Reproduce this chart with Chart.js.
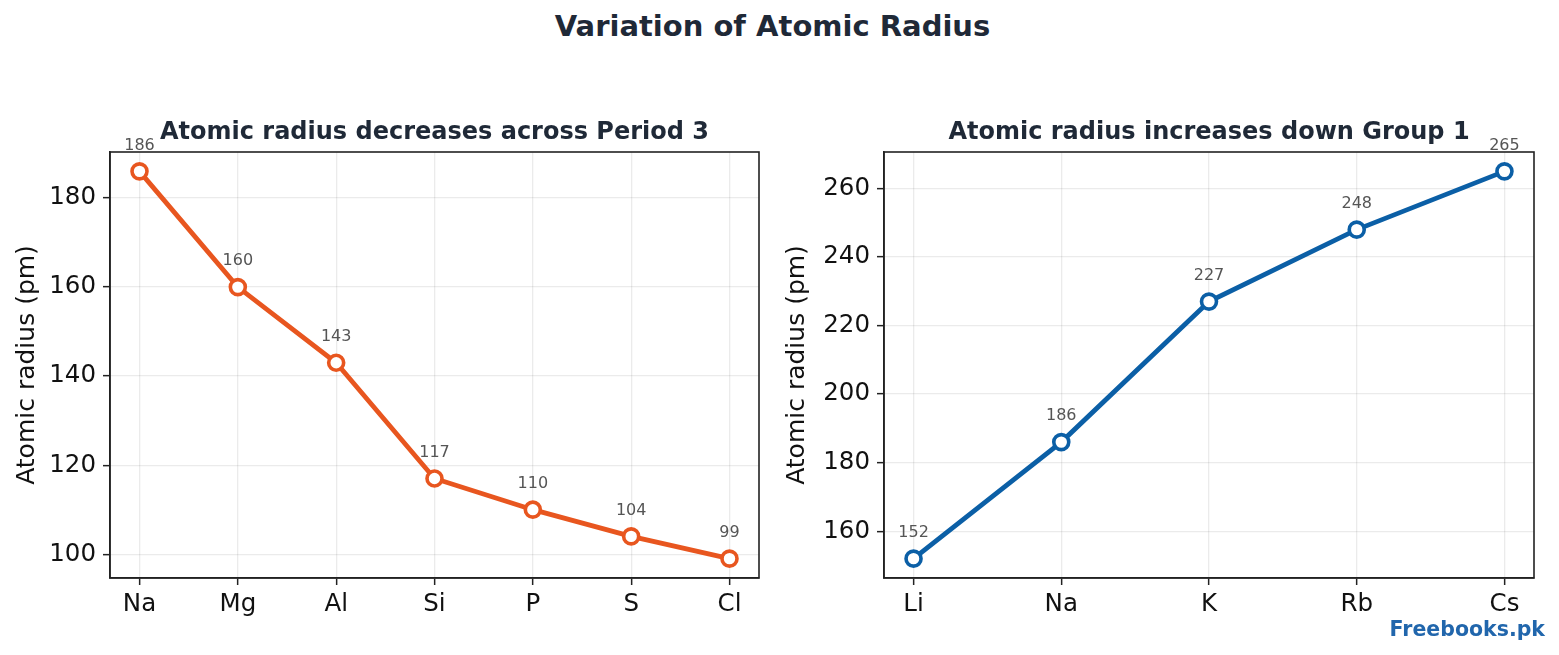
<!DOCTYPE html>
<html>
<head>
<meta charset="utf-8">
<script src="https://cdn.jsdelivr.net/npm/chart.js@4"></script>
<style>
  body { margin: 0; width: 1559px; height: 655px; background: #fff; position: relative; overflow: hidden; font-family: "DejaVu Sans", sans-serif; }
  #main-title { position: absolute; top: 9px; left: -7px; width: 1559px; text-align: center; font-weight: bold; font-size: 29px; color: #1f2937; }
  #watermark { position: absolute; right: 14px; top: 617px; font-weight: bold; font-size: 20.5px; color: #2166ac; }
  canvas { position: absolute; top: 0; }
</style>
</head>
<body>
<div id="main-title">Variation of Atomic Radius</div>
<canvas id="period-chart" width="780" height="655" style="left:0"></canvas>
<canvas id="group-chart" width="789" height="655" style="left:770px"></canvas>
<div id="watermark">Freebooks.pk</div>
<script>
const periodElements = ['Na', 'Mg', 'Al', 'Si', 'P', 'S', 'Cl'];
const periodRadius = [186, 160, 143, 117, 110, 104, 99];
const periodTicks = [100, 120, 140, 160, 180];

const groupElements = ['Li', 'Na', 'K', 'Rb', 'Cs'];
const groupRadius = [152, 186, 227, 248, 265];
const groupTicks = [160, 180, 200, 220, 240, 260];

const FONT = '"DejaVu Sans", sans-serif';

// top/right spines, subplot title and value labels
const extrasPlugin = {
    id: 'extras',
    afterDraw(chart, args, opts) {
        const ctx = chart.ctx;
        const a = chart.chartArea;
        ctx.save();
        ctx.strokeStyle = '#222';
        ctx.lineWidth = 1.6;
        ctx.strokeRect(a.left, a.top, a.right - a.left, a.bottom - a.top);

        ctx.fillStyle = '#1f2937';
        ctx.font = 'bold 24px ' + FONT;
        ctx.textAlign = 'center';
        ctx.textBaseline = 'middle';
        ctx.fillText(opts.title, (a.left + a.right) / 2, 133);

        ctx.fillStyle = '#555';
        ctx.font = '16px ' + FONT;
        const meta = chart.getDatasetMeta(0);
        meta.data.forEach((pt, i) => {
            ctx.fillText(chart.data.datasets[0].data[i].y, pt.x, pt.y - 26);
        });
        ctx.restore();
    }
};

function makeChart(canvasId, cats, values, yTicks, color, title, yAxisWidth, rightPad) {
    const lo = Math.min(...values), hi = Math.max(...values);
    const m = (hi - lo) * 0.05;
    const xm = (cats.length - 1) * 0.05;
    return new Chart(document.getElementById(canvasId).getContext('2d'), {
        type: 'line',
        data: {
            datasets: [{
                data: values.map((v, i) => ({ x: i, y: v })),
                borderColor: color,
                borderWidth: 4.8,
                pointRadius: 7.5,
                pointBorderWidth: 3.6,
                pointBackgroundColor: '#fff',
                pointBorderColor: color,
                tension: 0
            }]
        },
        options: {
            responsive: false,
            animation: false,
            devicePixelRatio: 1,
            layout: { padding: { top: 152, right: rightPad, bottom: 0, left: 0 } },
            scales: {
                x: {
                    type: 'linear',
                    min: -xm,
                    max: cats.length - 1 + xm,
                    afterBuildTicks: s => { s.ticks = cats.map((c, i) => ({ value: i })); },
                    afterFit: s => { s.height = 77; },
                    ticks: {
                        callback: v => cats[v],
                        color: '#111',
                        font: { family: FONT, size: 24.5 },
                        padding: 5,
                        maxRotation: 0
                    },
                    grid: { color: 'rgba(0,0,0,0.08)', lineWidth: 1.3, tickColor: '#222', tickLength: 7, tickWidth: 1.5 },
                    border: { color: '#222', width: 1.6 }
                },
                y: {
                    min: lo - m,
                    max: hi + m,
                    afterBuildTicks: s => { s.ticks = yTicks.map(v => ({ value: v })); },
                    afterFit: s => { s.width = yAxisWidth; },
                    ticks: {
                        color: '#111',
                        font: { family: FONT, size: 24.5 },
                        padding: 7
                    },
                    title: {
                        display: true,
                        text: 'Atomic radius (pm)',
                        color: '#111',
                        font: { family: FONT, size: 25 },
                        padding: { top: 12, bottom: 4 }
                    },
                    grid: { color: 'rgba(0,0,0,0.08)', lineWidth: 1.3, tickColor: '#222', tickLength: 7, tickWidth: 1.5 },
                    border: { color: '#222', width: 1.6 }
                }
            },
            plugins: {
                legend: { display: false },
                tooltip: { enabled: false },
                extras: { title: title }
            }
        },
        plugins: [extrasPlugin]
    });
}

makeChart('period-chart', periodElements, periodRadius, periodTicks, '#e8561f',
    'Atomic radius decreases across Period 3', 110, 21);
makeChart('group-chart', groupElements, groupRadius, groupTicks, '#0b5fa6',
    'Atomic radius increases down Group 1', 114, 25);
</script>
</body>
</html>
